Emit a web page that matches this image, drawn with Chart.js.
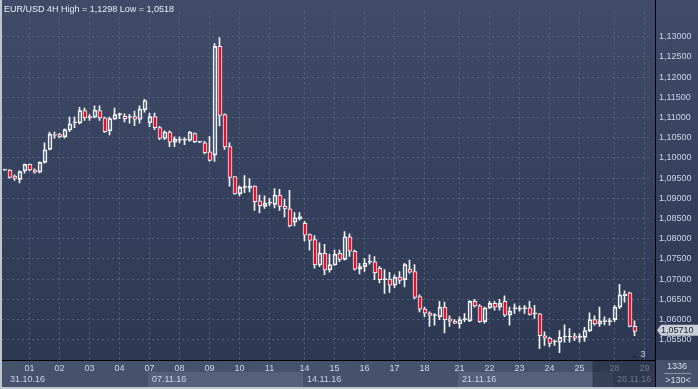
<!DOCTYPE html>
<html>
<head>
<meta charset="utf-8">
<script src="https://cdn.jsdelivr.net/npm/chart.js"></script>
<style>
  html, body { margin: 0; padding: 0; background: #3a4560; }
  #wrap { width: 698px; height: 389px; }
</style>
</head>
<body>
<div id="wrap"><canvas id="chart" width="698" height="389"></canvas></div>
<script>
// EUR/USD 4H candles
const title = 'EUR/USD 4H High = 1,1298 Low = 1,0518';

const opens = [
  1.0970, 1.0970, 1.0955, 1.0947, 1.0968, 1.0984, 1.0970, 1.0965, 1.0989, 1.1021,
  1.1057, 1.1058, 1.1052, 1.1069, 1.1087, 1.1086, 1.1117, 1.1099, 1.1101, 1.1117,
  1.1099, 1.1067, 1.1096, 1.1107, 1.1103, 1.1100, 1.1102, 1.1095, 1.1119, 1.1087,
  1.1102, 1.1075, 1.1048, 1.1064, 1.1039, 1.1044, 1.1044, 1.1043, 1.1060, 1.1039,
  1.1037, 1.1015, 1.1007, 1.1276, 1.1107, 1.1028, 1.0954, 1.0911, 1.0927, 1.0925,
  1.0930, 1.0894, 1.0880, 1.0888, 1.0885, 1.0908, 1.0880, 1.0874, 1.0841, 1.0849,
  1.0838, 1.0810, 1.0798, 1.0735, 1.0764, 1.0723, 1.0735, 1.0764, 1.0749, 1.0805,
  1.0769, 1.0725, 1.0731, 1.0742, 1.0743, 1.0727, 1.0699, 1.0700, 1.0685, 1.0705,
  1.0699, 1.0725, 1.0719, 1.0657, 1.0626, 1.0616, 1.0610, 1.0607, 1.0631, 1.0602,
  1.0596, 1.0589, 1.0600, 1.0597, 1.0645, 1.0634, 1.0595, 1.0629, 1.0640, 1.0631,
  1.0645, 1.0611, 1.0627, 1.0626, 1.0627, 1.0629, 1.0614, 1.0614, 1.0560, 1.0554,
  1.0545, 1.0544, 1.0557, 1.0557, 1.0560, 1.0556, 1.0556, 1.0572, 1.0600, 1.0589,
  1.0595, 1.0595, 1.0600, 1.0631, 1.0659, 1.0666, 1.0583
];
const highs = [
  1.0971, 1.0971, 1.0958, 1.0968, 1.0985, 1.0985, 1.0973, 1.0990, 1.1037, 1.1064,
  1.1064, 1.1061, 1.1072, 1.1101, 1.1101, 1.1125, 1.1123, 1.1107, 1.1129, 1.1129,
  1.1101, 1.1101, 1.1123, 1.1111, 1.1109, 1.1108, 1.1116, 1.1129, 1.1145, 1.1111,
  1.1111, 1.1078, 1.1067, 1.1067, 1.1052, 1.1052, 1.1050, 1.1066, 1.1062, 1.1040,
  1.1041, 1.1053, 1.1283, 1.1298, 1.1109, 1.1037, 1.0954, 1.0931, 1.0956, 1.0949,
  1.0931, 1.0908, 1.0906, 1.0900, 1.0924, 1.0922, 1.0898, 1.0920, 1.0865, 1.0865,
  1.0843, 1.0812, 1.0808, 1.0790, 1.0786, 1.0762, 1.0772, 1.0772, 1.0818, 1.0812,
  1.0772, 1.0739, 1.0751, 1.0760, 1.0756, 1.0731, 1.0724, 1.0717, 1.0711, 1.0719,
  1.0739, 1.0747, 1.0736, 1.0661, 1.0631, 1.0619, 1.0615, 1.0645, 1.0643, 1.0609,
  1.0600, 1.0607, 1.0615, 1.0647, 1.0650, 1.0637, 1.0631, 1.0645, 1.0645, 1.0650,
  1.0659, 1.0631, 1.0639, 1.0634, 1.0635, 1.0645, 1.0635, 1.0615, 1.0570, 1.0557,
  1.0549, 1.0573, 1.0587, 1.0578, 1.0566, 1.0565, 1.0581, 1.0617, 1.0609, 1.0631,
  1.0607, 1.0603, 1.0635, 1.0687, 1.0671, 1.0668, 1.0597
];
const lows = [
  1.0969, 1.0950, 1.0944, 1.0938, 1.0962, 1.0968, 1.0962, 1.0963, 1.0987, 1.1020,
  1.1049, 1.1050, 1.1049, 1.1065, 1.1075, 1.1084, 1.1093, 1.1093, 1.1099, 1.1093,
  1.1063, 1.1057, 1.1095, 1.1097, 1.1089, 1.1086, 1.1080, 1.1086, 1.1113, 1.1077,
  1.1070, 1.1045, 1.1045, 1.1028, 1.1028, 1.1037, 1.1033, 1.1041, 1.1038, 1.1038,
  1.1010, 1.0992, 1.0991, 1.1079, 1.1021, 1.0930, 1.0910, 1.0906, 1.0914, 1.0916,
  1.0870, 1.0864, 1.0875, 1.0882, 1.0876, 1.0870, 1.0854, 1.0829, 1.0832, 1.0846,
  1.0794, 1.0772, 1.0727, 1.0731, 1.0711, 1.0717, 1.0734, 1.0743, 1.0747, 1.0756,
  1.0722, 1.0713, 1.0719, 1.0737, 1.0699, 1.0691, 1.0665, 1.0667, 1.0679, 1.0689,
  1.0681, 1.0715, 1.0651, 1.0619, 1.0607, 1.0583, 1.0586, 1.0600, 1.0567, 1.0583,
  1.0590, 1.0579, 1.0595, 1.0595, 1.0631, 1.0593, 1.0591, 1.0627, 1.0623, 1.0623,
  1.0607, 1.0586, 1.0615, 1.0621, 1.0615, 1.0611, 1.0603, 1.0528, 1.0536, 1.0533,
  1.0536, 1.0518, 1.0544, 1.0544, 1.0548, 1.0544, 1.0546, 1.0570, 1.0586, 1.0583,
  1.0587, 1.0586, 1.0595, 1.0627, 1.0643, 1.0582, 1.0560
];
const closes = [
  1.0970, 1.0952, 1.0949, 1.0966, 1.0984, 1.0970, 1.0965, 1.0989, 1.1020, 1.1059,
  1.1056, 1.1052, 1.1070, 1.1084, 1.1087, 1.1117, 1.1099, 1.1102, 1.1118, 1.1099,
  1.1065, 1.1097, 1.1107, 1.1107, 1.1097, 1.1100, 1.1096, 1.1121, 1.1142, 1.1102,
  1.1075, 1.1048, 1.1064, 1.1039, 1.1047, 1.1044, 1.1044, 1.1064, 1.1040, 1.1039,
  1.1013, 1.0994, 1.1276, 1.1105, 1.1027, 1.0952, 1.0911, 1.0927, 1.0927, 1.0930,
  1.0892, 1.0882, 1.0888, 1.0888, 1.0908, 1.0880, 1.0874, 1.0832, 1.0852, 1.0855,
  1.0809, 1.0796, 1.0735, 1.0764, 1.0723, 1.0736, 1.0762, 1.0749, 1.0805, 1.0769,
  1.0725, 1.0731, 1.0740, 1.0742, 1.0716, 1.0699, 1.0699, 1.0685, 1.0705, 1.0697,
  1.0736, 1.0717, 1.0655, 1.0626, 1.0616, 1.0610, 1.0610, 1.0631, 1.0600, 1.0596,
  1.0591, 1.0600, 1.0600, 1.0645, 1.0634, 1.0595, 1.0629, 1.0640, 1.0631, 1.0640,
  1.0611, 1.0621, 1.0627, 1.0626, 1.0627, 1.0613, 1.0614, 1.0560, 1.0554, 1.0541,
  1.0545, 1.0556, 1.0557, 1.0557, 1.0554, 1.0556, 1.0573, 1.0600, 1.0589, 1.0597,
  1.0595, 1.0595, 1.0631, 1.0661, 1.0663, 1.0583, 1.0571
];

const slotCount = 130;
const dayTicks   = ['01','02','03','04','07','08','09','10','11','14','15','16','17','18','21','22','23','24','25','28','29'];
const dayTickIdx = [5, 11, 17, 23, 29, 35, 41, 47, 53, 60, 66, 72, 78, 84, 91, 97, 103, 109, 115, 122, 128];
const weekLabels   = ['31.10.16','07.11.16','14.11.16','21.11.16','28.11.16'];
const weekStartIdx = [0, 29, 60, 91, 122];
const yTicks = [1.055, 1.06, 1.065, 1.07, 1.075, 1.08, 1.085, 1.09, 1.095, 1.10, 1.105, 1.11, 1.115, 1.12, 1.125, 1.13];
const lastPrice = 1.05710;
const barsTotal = '1336';
const zoomText = '>130<';
const scrollText = '3';

const FONT = '"Liberation Sans", Arial, sans-serif';
const RED = '#e3122d';
const GRID = '#56637f';
const TXT = '#c9d5ea';

const slotLabels = Array.from({ length: slotCount }, (_, i) => {
  const k = dayTickIdx.indexOf(i);
  return k >= 0 ? dayTicks[k] : '';
});
const bodyLo = opens.map((o, i) => Math.min(o, closes[i]));
const bodyHi = opens.map((o, i) => Math.max(o, closes[i]));
const fmt = v => Number(v).toFixed(5).replace('.', ',');

const decor = {
  id: 'decor',
  beforeDraw(chart) {
    const ctx = chart.ctx;
    ctx.save();
    const g = ctx.createLinearGradient(0, 0, 0, 360);
    g.addColorStop(0, '#3f4b68');
    g.addColorStop(1, '#2d3852');
    ctx.fillStyle = g;
    ctx.fillRect(0, 0, 698, 360);
    ctx.fillStyle = '#46516b';
    ctx.fillRect(0, 360, 698, 29);
    ctx.restore();
  },
  beforeDatasetDraw(chart, args) {
    // shift bodies half a pixel so their edges land on whole pixels
    if (args.index === 0) { chart.ctx.save(); chart.ctx.translate(0.5, 0); }
  },
  afterDatasetDraw(chart, args) {
    if (args.index === 0) chart.ctx.restore();
  },
  afterDraw(chart) {
    const ctx = chart.ctx;
    const xs = chart.scales.x, ys = chart.scales.y;
    ctx.save();

    // week boxes in the lower row of the time axis
    for (let k = 1; k < weekLabels.length; k += 2) {
      const x0 = xs.getPixelForValue(weekStartIdx[k]) - 1.5;
      const x1 = k + 1 < weekStartIdx.length ? xs.getPixelForValue(weekStartIdx[k + 1]) - 1.5 : 655;
      ctx.fillStyle = '#55617b';
      ctx.fillRect(x0, 372, x1 - x0, 15);
    }
    ctx.font = '9px ' + FONT;
    ctx.fillStyle = TXT;
    ctx.textBaseline = 'middle';
    ctx.textAlign = 'left';
    weekLabels.forEach((w, k) => {
      const x = Math.max(xs.getPixelForValue(weekStartIdx[k]) + 2.5, 10);
      ctx.fillText(w, x, 380);
    });

    // dimmed area at the right of the time axis
    const xd = xs.getPixelForValue(117.6);
    ctx.fillStyle = 'rgba(30,38,58,0.55)';
    ctx.fillRect(xd, 361, 655 - xd, 26);

    // separators
    ctx.fillStyle = '#000';
    ctx.fillRect(0, 360, 655, 1);
    ctx.fillRect(655, 0, 1, 389);

    // corner info
    ctx.fillStyle = '#d6dded';
    ctx.textAlign = 'center';
    ctx.fillText(barsTotal, 677, 366.5);
    ctx.fillText(zoomText, 678, 380.5);
    ctx.fillStyle = '#8a95ab';
    ctx.fillRect(664, 373, 27, 1);

    // scroll marker
    ctx.fillStyle = '#222a3c';
    ctx.beginPath();
    ctx.moveTo(631, 358); ctx.lineTo(634.5, 354.5); ctx.lineTo(638, 358); ctx.closePath();
    ctx.fill();
    ctx.fillStyle = TXT;
    ctx.fillText(scrollText, 643, 355);

    // current price tag
    const py = ys.getPixelForValue(lastPrice) - 1;
    ctx.fillStyle = '#c9cdd5';
    ctx.beginPath();
    ctx.moveTo(657, py);
    ctx.lineTo(661, py - 5.5);
    ctx.lineTo(698, py - 5.5);
    ctx.lineTo(698, py + 5.5);
    ctx.lineTo(661, py + 5.5);
    ctx.closePath();
    ctx.fill();
    ctx.fillStyle = '#1c2434';
    ctx.textAlign = 'left';
    ctx.fillText(fmt(lastPrice), 661, py + 0.5);

    // title
    ctx.fillStyle = '#e6ecf6';
    ctx.textBaseline = 'alphabetic';
    ctx.fillText(title, 4, 11.5);

    // frame
    ctx.fillStyle = '#bfc5cf';
    ctx.fillRect(0, 0, 2, 389);
    ctx.fillRect(0, 387, 698, 2);
    ctx.restore();
  }
};

const chart = new Chart(document.getElementById('chart').getContext('2d'), {
  type: 'bar',
  data: {
    labels: slotLabels,
    datasets: [
      {
        label: 'body',
        data: bodyLo.map((lo, i) => [lo, bodyHi[i]]),
        backgroundColor: closes.map((c, i) => c < opens[i] ? RED : 'rgba(0,0,0,0)'),
        borderColor: '#f2f4f8',
        borderWidth: 1,
        borderSkipped: false,
        barThickness: 4,
        minBarLength: 1,
        grouped: false
      },
      {
        label: 'upper wick',
        data: highs.map((h, i) => [bodyHi[i], h]),
        backgroundColor: '#f2f4f8',
        borderWidth: 0,
        barThickness: 1,
        grouped: false
      },
      {
        label: 'lower wick',
        data: lows.map((l, i) => [l, bodyLo[i]]),
        backgroundColor: '#f2f4f8',
        borderWidth: 0,
        barThickness: 1,
        grouped: false
      }
    ]
  },
  options: {
    responsive: false,
    animation: false,
    devicePixelRatio: 1,
    layout: { padding: { left: 2, top: 0, right: 0, bottom: 0 } },
    plugins: { legend: { display: false }, tooltip: { enabled: false }, title: { display: false } },
    scales: {
      x: {
        offset: true,
        grid: {
          offset: false,
          drawTicks: false,
          color: ctx => slotLabels[ctx.index] ? GRID : 'rgba(0,0,0,0)',
          lineWidth: 1
        },
        border: { display: false, dash: [2, 3] },
        ticks: {
          autoSkip: false,
          maxRotation: 0,
          minRotation: 0,
          padding: 3,
          color: TXT,
          font: { family: FONT, size: 9 },
          callback: (v, i) => slotLabels[i]
        },
        afterFit: s => { s.height = 29; }
      },
      y: {
        position: 'right',
        min: 1.05,
        max: 1.136,
        grid: { drawTicks: false, color: GRID, lineWidth: 1 },
        border: { display: false, dash: [2, 3] },
        ticks: {
          padding: 7,
          color: TXT,
          font: { family: FONT, size: 9 },
          callback: v => fmt(v)
        },
        afterBuildTicks: s => { s.ticks = yTicks.map(v => ({ value: v })); },
        afterFit: s => { s.width = 46; }
      }
    }
  },
  plugins: [decor]
});
</script>
</body>
</html>
